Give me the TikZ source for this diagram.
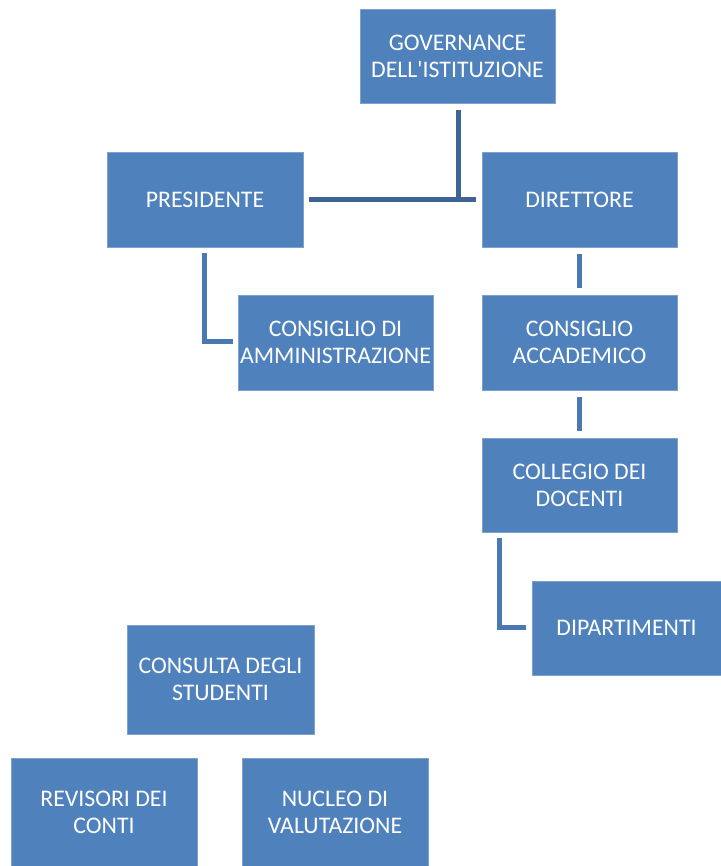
\documentclass[tikz,border=0pt]{standalone}
\usepackage{fontspec}
\setmainfont{Carlito}[Ligatures=TeXOff]
\usetikzlibrary{calc}
\definecolor{boxblue}{HTML}{4F81BD}
\definecolor{boxedge}{HTML}{7EA2CE}
\definecolor{lineA}{HTML}{3D6492}
\definecolor{lineB}{HTML}{4A78B2}
\tikzset{
  orgbox/.style={fill=boxblue, draw=boxedge, line width=0.8pt, text=white, align=center,
    font=\fontsize{23.8}{27}\selectfont, inner sep=0pt},
  connA/.style={draw=lineA, line width=5pt},
  connB/.style={draw=lineB, line width=5pt},
}
\newcommand{\orgnode}[6]{% name, x1, y1, x2, y2, text
  \node[orgbox, minimum width={#4-#2}, minimum height={#5-#3}] (#1) at ({(#2+#4)/2},{(#3+#5)/2}) {#6};}
\begin{document}
\begin{tikzpicture}[x=1pt,y=-1pt]
\useasboundingbox (0,0) rectangle (720,866);
\orgnode{gov}{360}{9}{555}{103}{GOVERNANCE\\DELL'ISTITUZIONE}
\orgnode{pres}{107}{152}{303}{247}{PRESIDENTE}
\orgnode{dir}{482}{152}{677}{247}{DIRETTORE}
\orgnode{cda}{238}{295}{433}{390}{CONSIGLIO DI\\AMMINISTRAZIONE}
\orgnode{cacc}{482}{295}{677}{390}{CONSIGLIO\\ACCADEMICO}
\orgnode{coll}{482}{438}{677}{532}{COLLEGIO DEI\\DOCENTI}
\orgnode{dip}{532}{581}{721}{675}{DIPARTIMENTI}
\orgnode{cons}{127}{625}{314}{734}{CONSULTA DEGLI\\STUDENTI}
\orgnode{rev}{11}{758}{197}{867}{REVISORI DEI\\CONTI}
\orgnode{nuc}{242}{758}{428}{867}{NUCLEO DI\\VALUTAZIONE}
% connectors
\coordinate (tj) at (458,199.5);
\coordinate (pl) at (204.5,341.5);
\coordinate (cl) at (499.5,627.5);
\coordinate (ax) at (579,0);
\draw[connA] ($(gov.south -| tj)+(0,7)$) -- (tj);
\draw[connA] ($(pres.east |- tj)+(6,0)$) -- ($(dir.west |- tj)+(-6,0)$);
\draw[connB] ($(pres.south -| pl)+(0,6)$) |- ($(cda.west |- pl)+(-5,0)$);
\draw[connB] ($(dir.south -| ax)+(0,7)$) -- ($(cacc.north -| ax)+(0,-7)$);
\draw[connB] ($(cacc.south -| ax)+(0,7)$) -- ($(coll.north -| ax)+(0,-7)$);
\draw[connB] ($(coll.south -| cl)+(0,6)$) |- ($(dip.west |- cl)+(-6,0)$);
\end{tikzpicture}
\end{document}
